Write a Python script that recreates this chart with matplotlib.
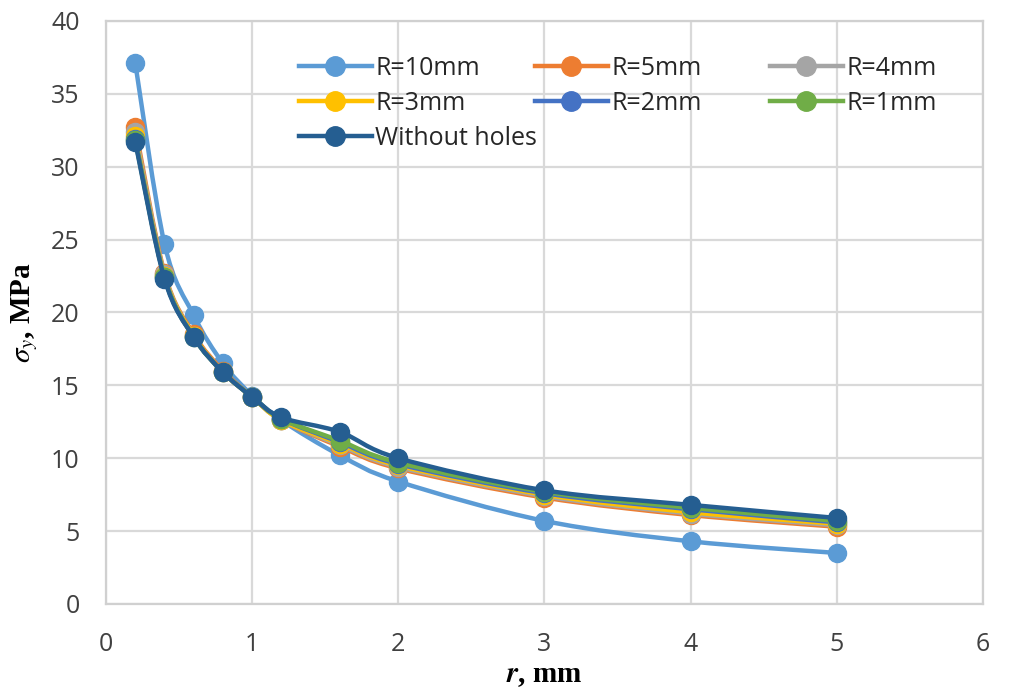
import numpy as np
import matplotlib
matplotlib.use("Agg")
import matplotlib.pyplot as plt
from matplotlib.path import Path
from matplotlib.patches import PathPatch
from matplotlib.lines import Line2D

plt.rcParams["mathtext.fontset"] = "stix"

r_mm = [0.2, 0.4, 0.6, 0.8, 1.0, 1.2, 1.6, 2, 3, 4, 5]
series_names = ["R=10mm", "R=5mm", "R=4mm", "R=3mm", "R=2mm", "R=1mm", "Without holes"]
r10 = [37.1, 24.7, 19.8, 16.5, 14.3, 12.6, 10.2, 8.4, 5.7, 4.3, 3.5]
r5 = [32.7, 22.7, 18.5, 16.0, 14.2, 12.6, 10.8, 9.3, 7.3, 6.1, 5.3]
r4 = [32.4, 22.6, 18.4, 15.9, 14.2, 12.6, 10.9, 9.4, 7.4, 6.2, 5.4]
r3 = [32.1, 22.5, 18.4, 15.9, 14.2, 12.6, 11.0, 9.5, 7.5, 6.3, 5.5]
r2 = [31.9, 22.4, 18.3, 15.9, 14.2, 12.7, 11.1, 9.6, 7.6, 6.5, 5.6]
r1 = [31.8, 22.4, 18.3, 15.9, 14.2, 12.7, 11.2, 9.7, 7.7, 6.6, 5.7]
no_holes = [31.7, 22.3, 18.3, 15.9, 14.2, 12.8, 11.8, 10.0, 7.8, 6.8, 5.9]
colors = ["#5B9BD5", "#ED7D31", "#A5A5A5", "#FFC000", "#4472C4", "#70AD47", "#255E91"]

fig = plt.figure(figsize=(10.1, 6.94), dpi=100)
ax = fig.add_axes([0.105, 0.1297, 0.868, 0.8403])
ax.set_xlim(0, 6)
ax.set_ylim(0, 40)
ax.set_xticks(range(0, 7))
ax.set_yticks(range(0, 41, 5))
ax.grid(True, color="#D9D9D9", lw=1.6)
ax.set_axisbelow(True)
for s in ["left", "bottom", "top", "right"]:
    ax.spines[s].set_color("#D0D0D0")
    ax.spines[s].set_linewidth(1.6)
ax.tick_params(length=0, labelsize=18, labelcolor="#404040")
ax.tick_params(axis="x", pad=20)
ax.tick_params(axis="y", pad=19)
for lab in ax.get_xticklabels() + ax.get_yticklabels():
    lab.set_family("Open Sans")

fig.canvas.draw()


def smooth_path(xs, ys):
    # Bezier (Catmull-Rom style) through the points, computed in display space
    pts = ax.transData.transform(np.column_stack([xs, ys]))
    n = len(pts)
    verts = [pts[0]]
    codes = [Path.MOVETO]
    t = 1.0 / 6.0
    for i in range(n - 1):
        p0 = pts[i - 1] if i > 0 else pts[i]
        p1 = pts[i]
        p2 = pts[i + 1]
        p3 = pts[i + 2] if i + 2 < n else pts[i + 1]
        c1 = p1 + (p2 - p0) * t
        c2 = p2 - (p3 - p1) * t
        verts += [c1, c2, p2]
        codes += [Path.CURVE4] * 3
    return Path(verts, codes)


all_series = [r10, r5, r4, r3, r2, r1, no_holes]
handles = []
for k, (name, ys, c) in enumerate(zip(series_names, all_series, colors)):
    p = smooth_path(r_mm, ys)
    patch = PathPatch(p, transform=None, facecolor="none", edgecolor=c, lw=3.2,
                      zorder=3 + k, capstyle="round", joinstyle="round")
    ax.add_patch(patch)
    ax.plot(r_mm, ys, linestyle="none", marker="o", ms=13, color=c,
            markeredgecolor=c, zorder=3 + k, clip_on=False)
    handles.append(Line2D([], [], color=c, lw=3.2, marker="o", ms=14))

# legend laid out as three equal-width columns, filled row by row
columns = [[0, 3, 6], [1, 4], [2, 5]]
col_x_px = [299, 535, 770]
W, H = fig.get_size_inches() * fig.dpi
for idx, xpx in zip(columns, col_x_px):
    leg = fig.legend([handles[i] for i in idx], [series_names[i] for i in idx],
                     loc="upper left", bbox_to_anchor=(xpx / W, 1 - 56 / H),
                     bbox_transform=fig.transFigure, frameon=False,
                     handlelength=2.9, handletextpad=0.15, labelspacing=0.4,
                     borderpad=0, borderaxespad=0,
                     prop={"family": "Open Sans", "size": 18})
    for t in leg.get_texts():
        t.set_color("#262626")

ax.set_xlabel(r"$\boldsymbol{r}$, mm", fontsize=21, family="Liberation Serif",
              fontweight="bold", labelpad=4)
ax.set_ylabel(r"$\boldsymbol{\sigma_{y}}$, MPa", fontsize=21, family="Liberation Serif",
              fontweight="bold", labelpad=8)

fig.savefig("out.png", dpi=100)
